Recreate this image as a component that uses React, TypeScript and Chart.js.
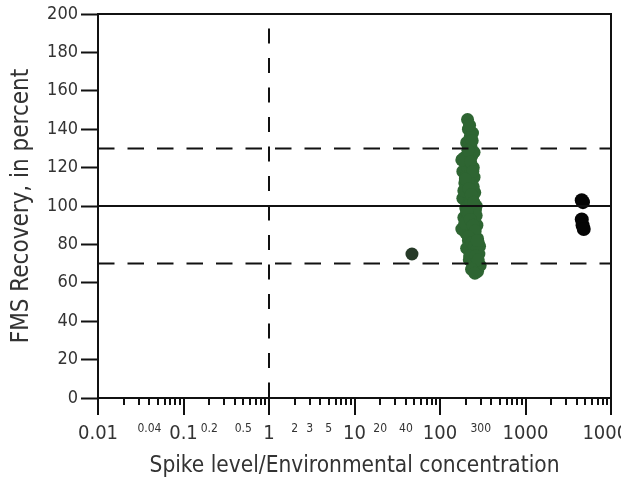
import { useEffect, useRef } from 'react';
import { Chart, registerables } from 'chart.js';

Chart.register(...registerables);

// ---- data ----
const greenX = [
  210, 215, 225, 205, 230, 215, 190, 235, 200, 245, 185, 220, 250, 195, 230, 205, 255, 185, 240, 215,
  200, 260, 230, 190, 250, 210, 270, 180, 235, 200, 255, 275, 215, 240, 290, 205, 260, 230, 285, 250,
  220, 270, 240, 295, 260, 275, 225, 245, 210, 235, 265, 190, 250, 220, 200, 180, 240, 265, 225, 205,
  215, 245, 280, 230, 195, 260, 222, 238, 212, 228, 242, 198, 218, 232, 248, 208, 226, 244, 258, 214,
  236, 252, 268, 222, 246, 262, 280, 234, 256, 272,
];
const greenY = [
  145, 140, 136, 133, 131, 128, 125, 126, 122, 120, 118, 117, 115, 112, 111, 108, 107, 104, 103, 101,
  99, 98, 96, 94, 93, 91, 90, 88, 87, 86, 85, 83, 82, 80, 79, 78, 77, 76, 75, 73,
  72, 71, 70, 69, 68, 66, 105, 110, 120, 92, 100, 108, 128, 132, 115, 124, 138, 95, 84, 97,
  113, 89, 81, 102, 91, 74, 142, 134, 129, 123, 118, 114, 109, 106, 102, 97, 93, 90, 87, 84,
  81, 79, 77, 74, 71, 74, 72, 67, 65, 82,
];
const darkX = [47];
const darkY = [75];
const blackX = [4550, 4700, 4550, 4650, 4800];
const blackY = [103, 102, 93, 90, 88];

const refLow = 70;
const refMid = 100;
const refHigh = 130;
const refRatio = 1;

const xMin = 0.01;
const xMax = 10000;
const yMin = 0;
const yMax = 200;
const xMajorValues = [0.01, 0.1, 1, 10, 100, 1000, 10000];
const xMinorMultipliers = [2, 3, 4, 5, 6, 7, 8, 9];
const xLabelValues = [0.01, 0.04, 0.1, 0.2, 0.5, 1, 2, 3, 5, 10, 20, 40, 100, 300, 1000, 10000];
const xLabelTexts = ['0.01', '0.04', '0.1', '0.2', '0.5', '1', '2', '3', '5', '10', '20', '40', '100', '300', '1000', '10000'];

const xTitle = 'Spike level/Environmental concentration';
const yTitle = 'FMS Recovery, in percent';

const FONT = '"Liberation Sans Narrow", "DejaVu Sans Condensed", "Roboto Condensed", Arial, sans-serif';
const TEXT = '#333333';
const AXIS = '#111111';

const sameVal = (a: number, b: number) => Math.abs(Math.log10(a) - Math.log10(b)) < 1e-6;
const isMajor = (v: number) => xMajorValues.some((m) => sameVal(m, v));

const tickPlugin = {
  id: 'customTicks',
  afterDraw(chart: any) {
    const { ctx, chartArea } = chart;
    const xs = chart.scales.x;
    ctx.save();
    ctx.strokeStyle = AXIS;
    ctx.lineWidth = 2;
    // frame: top and right
    ctx.beginPath();
    ctx.moveTo(chartArea.left, chartArea.top);
    ctx.lineTo(chartArea.right, chartArea.top);
    ctx.lineTo(chartArea.right, chartArea.bottom);
    ctx.stroke();
    // x tick marks
    for (const t of xs.ticks) {
      const px = Math.round(xs.getPixelForValue(t.value));
      const len = isMajor(t.value) ? 17 : 7;
      ctx.beginPath();
      ctx.moveTo(px, chartArea.bottom);
      ctx.lineTo(px, chartArea.bottom + len);
      ctx.stroke();
    }
    ctx.restore();
  },
};

export default function App() {
  const ref = useRef<HTMLCanvasElement | null>(null);
  useEffect(() => {
    document.body.style.margin = '0';
    const canvas = ref.current;
    if (!canvas) return;
    const green = greenX.map((x, i) => ({ x, y: greenY[i] }));
    const dark = darkX.map((x, i) => ({ x, y: darkY[i] }));
    const black = blackX.map((x, i) => ({ x, y: blackY[i] }));
    const dash = [16.5, 13];
    const chart = new Chart(canvas, {
      type: 'scatter',
      data: {
        datasets: [
          { data: [{ x: xMin, y: refHigh }, { x: xMax, y: refHigh }], showLine: true, borderColor: AXIS, borderWidth: 2, borderDash: dash, pointRadius: 0 },
          { data: [{ x: xMin, y: refMid }, { x: xMax, y: refMid }], showLine: true, borderColor: AXIS, borderWidth: 2, pointRadius: 0 },
          { data: [{ x: xMin, y: refLow }, { x: xMax, y: refLow }], showLine: true, borderColor: AXIS, borderWidth: 2, borderDash: dash, pointRadius: 0 },
          { data: [{ x: refRatio, y: yMax }, { x: refRatio, y: yMin }], showLine: true, borderColor: AXIS, borderWidth: 2, borderDash: [15, 14.5], borderDashOffset: 15, pointRadius: 0 },
          { data: green, pointRadius: 6.5, pointBackgroundColor: '#2e6532', pointBorderColor: '#2e6532', pointBorderWidth: 0 },
          { data: dark, pointRadius: 6.5, pointBackgroundColor: '#263a28', pointBorderColor: '#263a28', pointBorderWidth: 0 },
          { data: black, pointRadius: 7, pointBackgroundColor: '#050505', pointBorderColor: '#050505', pointBorderWidth: 0 },
        ],
      },
      options: {
        animation: false,
        responsive: false,
        devicePixelRatio: 1,
        layout: { padding: { top: 14, right: 10, left: 0, bottom: 0 } },
        plugins: { legend: { display: false }, tooltip: { enabled: false } },
        scales: {
          x: {
            type: 'logarithmic',
            min: xMin,
            max: xMax,
            afterBuildTicks: (scale: any) => {
              const ticks: any[] = [];
              xMajorValues.forEach((d, i) => {
                ticks.push({ value: d, major: true });
                if (i < xMajorValues.length - 1) xMinorMultipliers.forEach((m) => ticks.push({ value: d * m, major: false }));
              });
              scale.ticks = ticks;
            },
            afterFit: (scale: any) => {
              scale.height = 87;
              scale.paddingLeft = 0;
              scale.paddingRight = 0;
            },
            border: { display: true, color: AXIS, width: 2 },
            grid: { display: true, drawOnChartArea: false, drawTicks: true, tickLength: 17, tickColor: 'rgba(0,0,0,0)' },
            ticks: {
              autoSkip: false,
              maxRotation: 0,
              padding: 7,
              color: TEXT,
              font: (c: any) => (c.tick && isMajor(c.tick.value) ? { family: FONT, size: 20 } : { family: FONT, size: 12 }),
              callback: (v: any) => {
                const idx = xLabelValues.findIndex((l) => sameVal(l, Number(v)));
                return idx >= 0 ? xLabelTexts[idx] : '';
              },
            },
            title: { display: true, text: xTitle, color: TEXT, font: { family: FONT, size: 22.5 }, padding: { top: 0, bottom: 5 } },
          },
          y: {
            min: yMin,
            max: yMax,
            afterFit: (scale: any) => {
              scale.width = 98;
              scale.paddingTop = 0;
              scale.paddingBottom = 0;
            },
            border: { display: true, color: AXIS, width: 2 },
            grid: { display: true, drawOnChartArea: false, drawTicks: true, tickLength: 17, tickColor: AXIS, tickWidth: 2 },
            ticks: {
              stepSize: 10,
              padding: 3,
              color: TEXT,
              font: { family: FONT, size: 18 },
              callback: (v: any) => (Number(v) % 20 === 0 ? String(v) : ''),
            },
            title: { display: true, text: yTitle, color: TEXT, font: { family: FONT, size: 24 }, padding: { top: 7, bottom: 0 } },
          },
        },
      },
      plugins: [tickPlugin],
    });
    return () => chart.destroy();
  }, []);
  return (
    <div style={{ position: 'absolute', left: 0, top: 0, width: 621, height: 485 }}>
      <canvas ref={ref} width={621} height={485} style={{ width: 621, height: 485 }} />
    </div>
  );
}
